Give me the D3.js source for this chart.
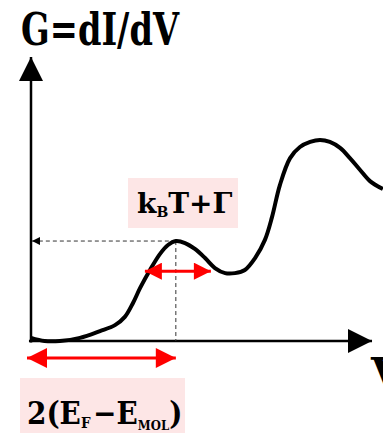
<!DOCTYPE html>
<html>
<head>
<meta charset="utf-8">
<script src="https://cdn.jsdelivr.net/npm/d3@7"></script>
<style>
  body { margin: 0; background: #fff; }
  svg { display: block; }
</style>
</head>
<body>
<svg width="383" height="433"></svg>
<script>
// curve (V in arbitrary units, G in arbitrary units)
const vValues = [0, 4, 8.5, 14.4, 20.3, 24.7, 27.6, 30, 32.1, 35, 37.9, 40.3, 42.6, 45.3, 48.2, 51.2, 54.1, 57.1, 60, 62.9, 65.9, 68.8, 70.9, 73.2, 76.2, 79.1, 82.1, 85, 87.9, 90.9, 93.8, 96.8, 99.7, 103.5];
const gValues = [1.1, 0, 0, 1.1, 3.5, 5.6, 8.5, 13.4, 18.7, 25, 30.6, 33.8, 35.2, 34.5, 32.4, 29.2, 25.7, 23.9, 23.9, 25, 29.2, 35.6, 43.7, 54.9, 64.4, 68.3, 70.1, 70.8, 70.1, 68, 64.4, 60.2, 56.3, 53.5];

// marked features
const peak = [42.6, 35.2];          // first resonance peak
const widthArrow = [33.5, 52.9, 24.6]; // from, to, at G
const offsetArrow = [0, 42.6];      // 2(EF - EMOL)

const labels = ["G=dI/dV", "V"];

const svg = d3.select('svg');
const serif = '"DejaVu Serif", serif';

const x = d3.scaleLinear().domain([0, 100]).range([31, 371]);
const y = d3.scaleLinear().domain([0, 100]).range([341, 57]);

const defs = svg.append('defs');
function marker(id, color, w, h) {
    defs.append('marker')
        .attr('id', id)
        .attr('viewBox', '0 0 10 10')
        .attr('refX', 10).attr('refY', 5)
        .attr('markerUnits', 'userSpaceOnUse')
        .attr('markerWidth', w).attr('markerHeight', h)
        .attr('orient', 'auto-start-reverse')
        .append('path')
        .attr('d', 'M0,0 L10,5 L0,10 Z')
        .attr('fill', color);
}
marker('blackHead', '#000', 26, 24);
marker('smallHead', '#000', 9, 8);
marker('redHead', '#f00', 18, 17);
marker('redBig', '#f00', 22, 20);

// pink label boxes
svg.append('rect').attr('x', 128).attr('y', 178).attr('width', 110).attr('height', 50).attr('fill', '#fde6e6');
svg.append('rect').attr('x', 20).attr('y', 378).attr('width', 165).attr('height', 60).attr('fill', '#fde6e6');

// axes
svg.append('line')
    .attr('x1', x(-0.6)).attr('y1', y(0)).attr('x2', x(100.3)).attr('y2', y(0))
    .attr('stroke', '#000').attr('stroke-width', 2.5)
    .attr('marker-end', 'url(#blackHead)');
svg.append('line')
    .attr('x1', x(0)).attr('y1', y(-0.5)).attr('x2', x(0)).attr('y2', y(100))
    .attr('stroke', '#000').attr('stroke-width', 2.5)
    .attr('marker-end', 'url(#blackHead)');

// dashed guides to the peak
svg.append('line')
    .attr('x1', x(peak[0])).attr('y1', y(peak[1])).attr('x2', x(0.3)).attr('y2', y(peak[1]))
    .attr('stroke', '#333').attr('stroke-width', 1).attr('stroke-dasharray', '4,3')
    .attr('marker-end', 'url(#smallHead)');
svg.append('line')
    .attr('x1', x(peak[0])).attr('y1', y(peak[1])).attr('x2', x(peak[0])).attr('y2', y(0))
    .attr('stroke', '#333').attr('stroke-width', 1).attr('stroke-dasharray', '4,3');

// the curve
const line = d3.line()
    .x((d, i) => x(vValues[i]))
    .y(d => y(d))
    .curve(d3.curveCatmullRom);
svg.append('path')
    .datum(gValues)
    .attr('d', line)
    .attr('fill', 'none')
    .attr('stroke', '#000')
    .attr('stroke-width', 4)
    .attr('stroke-linejoin', 'round');

// red double arrows
svg.append('line')
    .attr('x1', x(widthArrow[0])).attr('y1', y(widthArrow[2]))
    .attr('x2', x(widthArrow[1])).attr('y2', y(widthArrow[2]))
    .attr('stroke', '#f00').attr('stroke-width', 3)
    .attr('marker-start', 'url(#redHead)').attr('marker-end', 'url(#redHead)');
svg.append('line')
    .attr('x1', x(offsetArrow[0]) - 4).attr('y1', y(0) + 17)
    .attr('x2', x(offsetArrow[1])).attr('y2', y(0) + 17)
    .attr('stroke', '#f00').attr('stroke-width', 3)
    .attr('marker-start', 'url(#redBig)').attr('marker-end', 'url(#redBig)');

// texts
function txt(parent, xp, yp, size) {
    return parent.append('text').attr('x', xp).attr('y', yp)
        .style('font-family', serif).style('font-weight', 'bold')
        .attr('font-size', size).attr('fill', '#000');
}
txt(svg, 21, 45, 44).attr('textLength', 158).attr('lengthAdjust', 'spacingAndGlyphs')
    .text(labels[0]);
txt(svg, 371, 390, 44).text(labels[1]);

const kt = txt(svg, 137, 213, 28);
kt.append('tspan').text('k');
kt.append('tspan').attr('font-size', 14).attr('dy', 4).text('B');
kt.append('tspan').attr('dy', -4).text('T+Γ');

const efG = svg.append('g').attr('transform', 'translate(27,424) scale(0.9,1)');
const ef = txt(efG, 0, 0, 31);
ef.append('tspan').text('2(E');
ef.append('tspan').attr('font-size', 15).attr('dy', 4).text('F');
ef.append('tspan').attr('dy', -4).attr('dx', 3).text('−E');
ef.append('tspan').attr('font-size', 13).attr('dy', 6).text('MOL');
ef.append('tspan').attr('dy', -6).text(')');
</script>
</body>
</html>
